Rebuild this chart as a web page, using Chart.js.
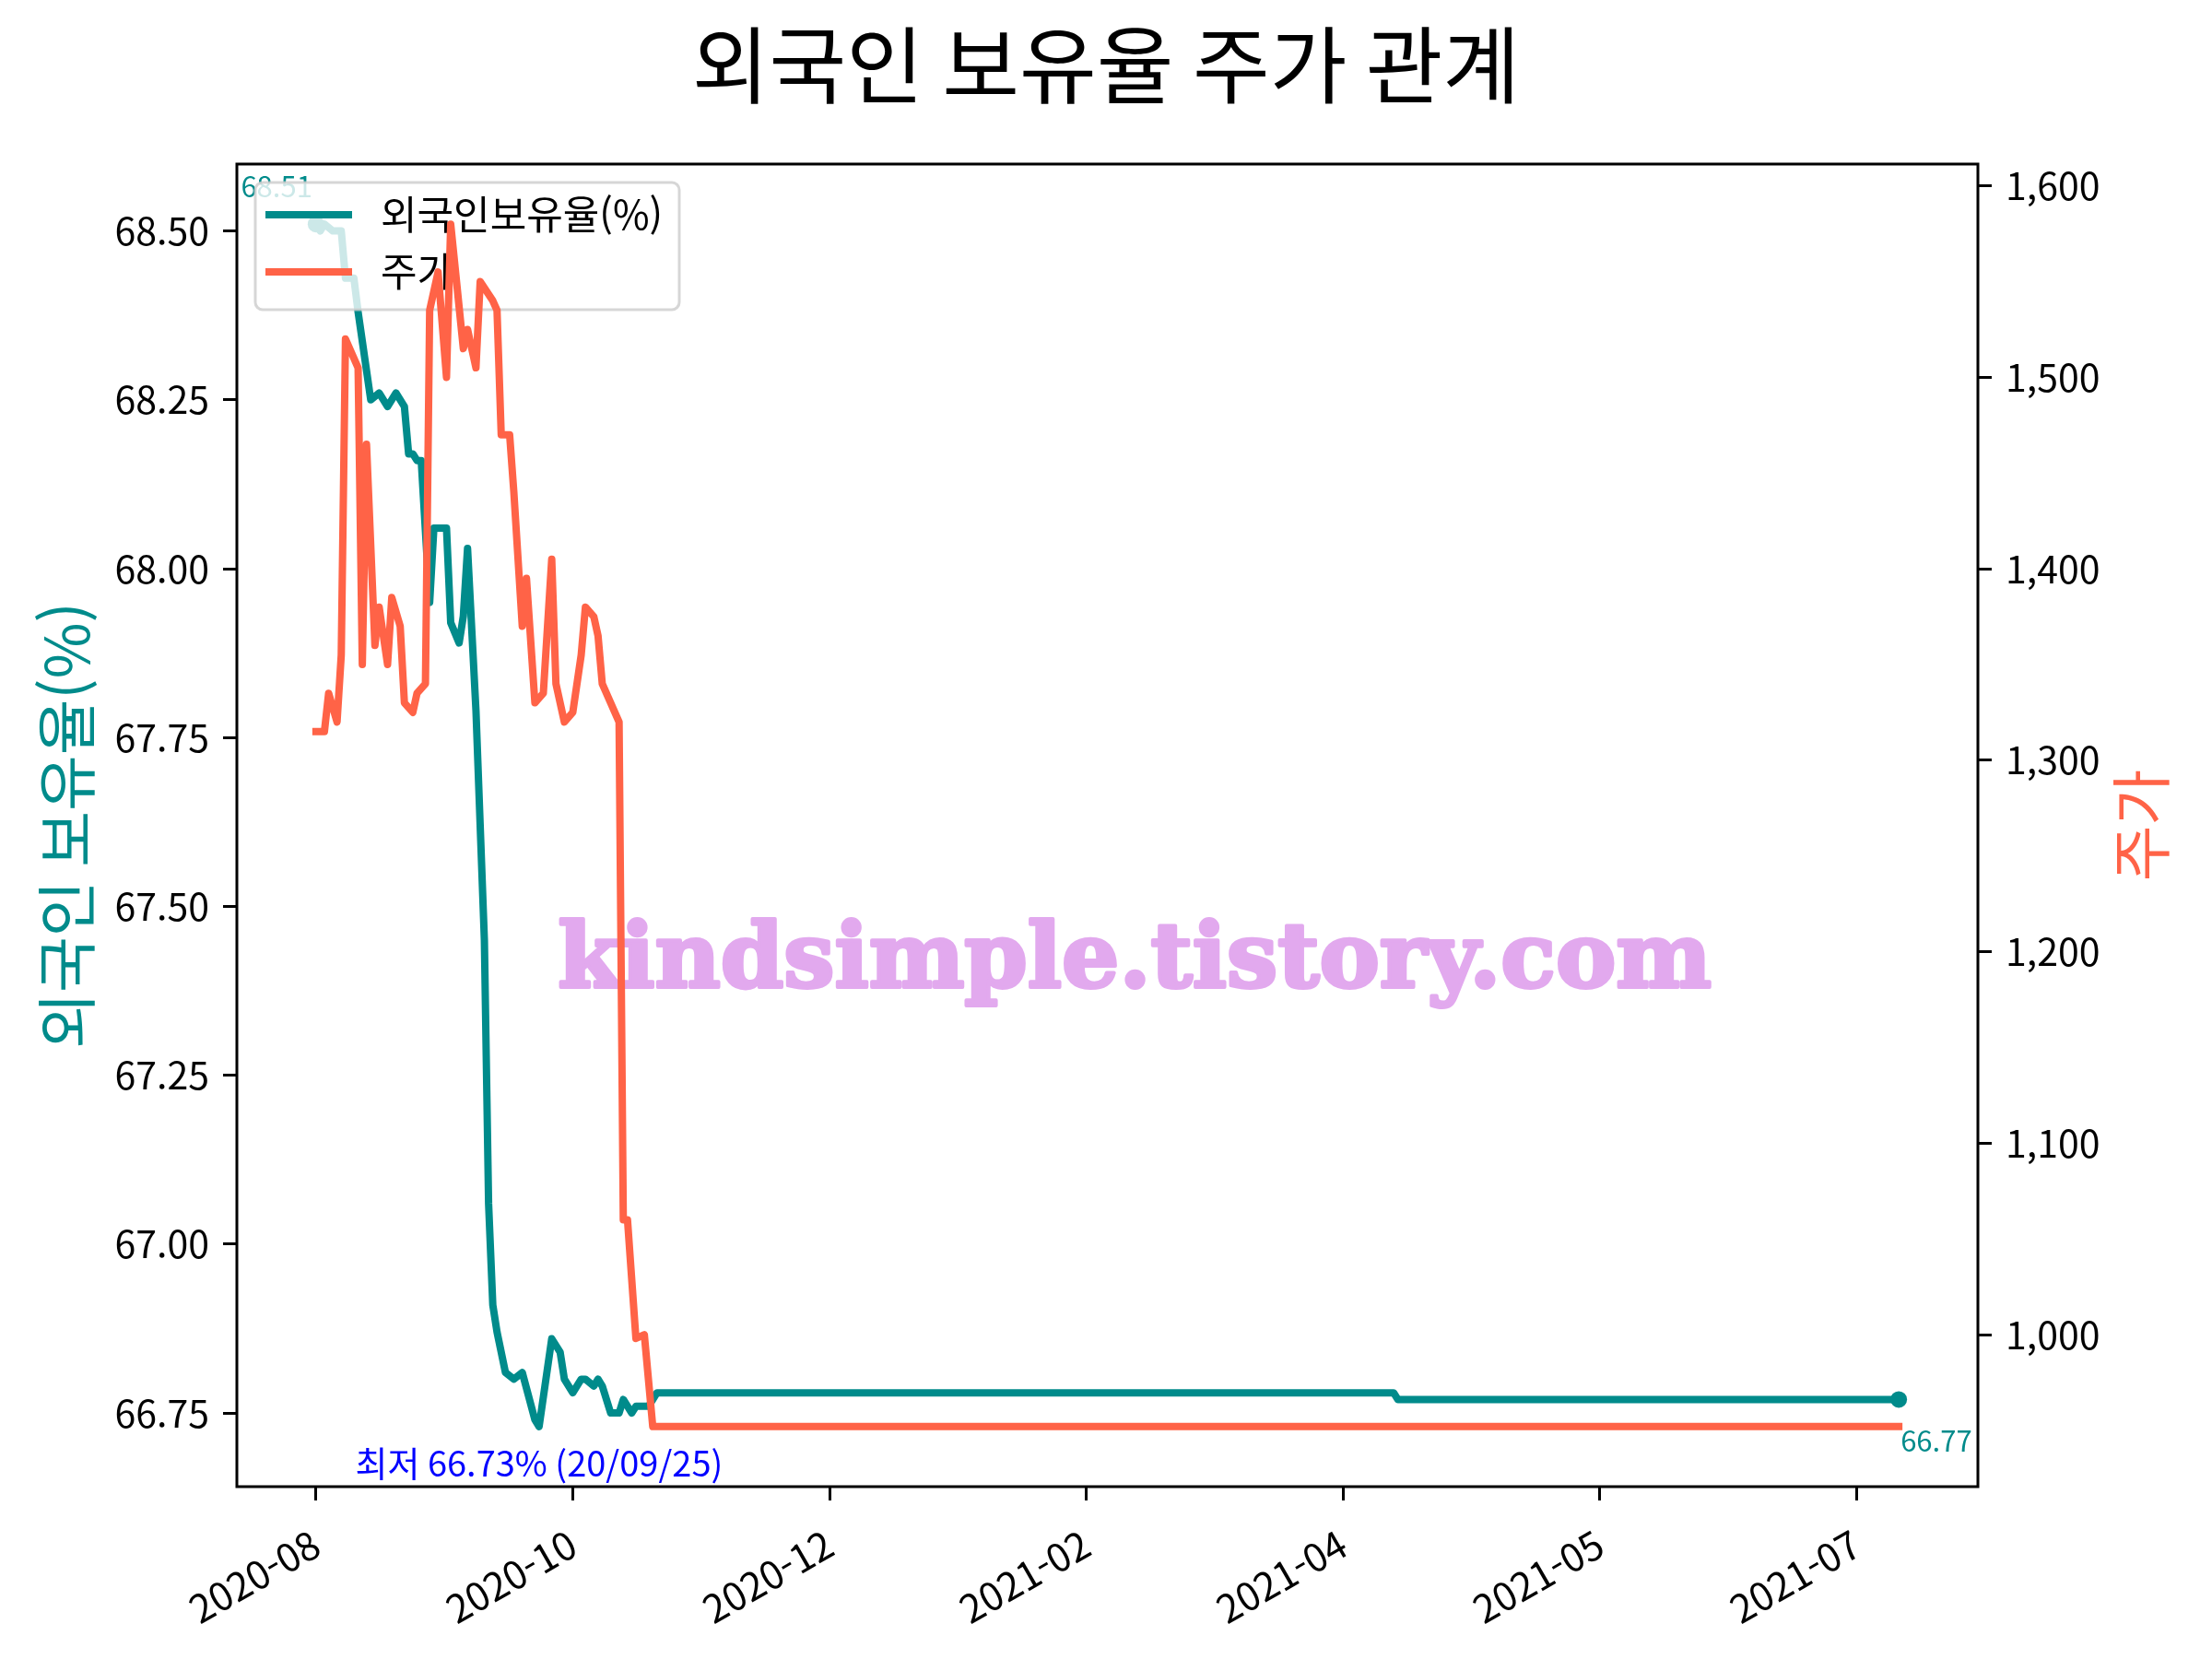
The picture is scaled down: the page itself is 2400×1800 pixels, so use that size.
<!DOCTYPE html>
<html lang="ko">
<head>
<meta charset="UTF-8">
<title>외국인 보유율 주가 관계</title>
<script src="https://cdn.jsdelivr.net/npm/chart.js@4.4.3/dist/chart.umd.min.js"></script>
<style>
  html, body { margin: 0; padding: 0; background: #fff; }
  .wrap { width: 2400px; height: 1800px; position: relative; }
</style>
</head>
<body>
<div class="wrap"><canvas id="chart"></canvas></div>
<script>
// x values are day offsets from the first trading day (2020-08-03)
const holdDays = [0, 1, 2, 4, 6, 7, 9, 10, 13, 15, 17, 19, 21, 22, 23, 24, 25, 27, 28, 31,
  32, 34, 35, 36, 38, 39, 40, 41, 42, 43, 45, 47, 49, 52, 53, 56, 58, 59, 61, 63,
  64, 66, 67, 68, 70, 72, 73, 75, 76, 79, 81, 256, 257, 376];
const holdVals = [68.51, 68.50, 68.51, 68.50, 68.50, 68.43, 68.43, 68.38, 68.25, 68.26,
  68.24, 68.26, 68.24, 68.17, 68.17, 68.16, 68.16, 67.95, 68.06, 68.06,
  67.92, 67.89, 67.93, 68.03, 67.79, 67.62, 67.45, 67.06, 66.91, 66.87,
  66.81, 66.80, 66.81, 66.74, 66.73, 66.86, 66.84, 66.80, 66.78, 66.80,
  66.80, 66.79, 66.80, 66.79, 66.75, 66.75, 66.77, 66.75, 66.76, 66.76,
  66.78, 66.78, 66.77, 66.77];

const priceDays = [0, 2, 3, 5, 6, 7, 10, 11, 12, 14, 15, 17, 18, 20, 21, 23, 24, 26, 27, 29,
  31, 32, 35, 36, 38, 39, 42, 43, 44, 46, 47, 49, 50, 52, 54, 56, 57, 59, 61, 63,
  64, 66, 67, 68, 72, 73, 74, 76, 78, 80, 376];
const priceVals = [1315, 1315, 1335, 1320, 1355, 1520, 1505, 1350, 1465, 1360,
  1380, 1350, 1385, 1370, 1330, 1325, 1335, 1340, 1535, 1555,
  1500, 1580, 1515, 1525, 1505, 1550, 1540, 1535, 1470, 1470,
  1440, 1370, 1395, 1330, 1335, 1405, 1340, 1320, 1325, 1355,
  1380, 1375, 1365, 1340, 1320, 1060, 1060, 998, 1000, 952, 952];

const xTickDays = [0, 61, 122, 183, 244, 305, 366];
const xTickLabels = ['2020-08', '2020-10', '2020-12', '2021-02', '2021-04', '2021-05', '2021-07'];
const holdTicks = [66.75, 67.00, 67.25, 67.50, 67.75, 68.00, 68.25, 68.50];
const priceTicks = [1000, 1100, 1200, 1300, 1400, 1500, 1600];

const TEAL = '#008b8b';
const TOMATO = '#ff6347';
const FONT = "'Noto Sans CJK KR', 'Noto Sans', sans-serif";
const baseDate = Date.UTC(2020, 7, 3);

function padRange(vals) {
  const lo = Math.min(...vals), hi = Math.max(...vals), m = (hi - lo) * 0.05;
  return { min: lo - m, max: hi + m };
}
function shortDate(day) {
  const d = new Date(baseDate + day * 864e5);
  const p = n => String(n).padStart(2, '0');
  return p(d.getUTCFullYear() % 100) + '/' + p(d.getUTCMonth() + 1) + '/' + p(d.getUTCDate());
}

const xRange = padRange(holdDays.concat(priceDays));
const holdRange = padRange(holdVals);
const priceRange = padRange(priceVals);
const minIdx = holdVals.indexOf(Math.min(...holdVals));
const maxIdx = holdVals.indexOf(Math.max(...holdVals));
const lastIdx = holdVals.length - 1;

const decor = {
  id: 'decor',
  beforeDraw(chart) {
    const c = chart.ctx;
    c.save();
    c.fillStyle = '#fff';
    c.fillRect(0, 0, chart.width, chart.height);
    c.restore();
  },
  // teal series is drawn first; its texts and the legend sit between it and the price line
  afterDatasetDraw(chart, args) {
    if (args.index !== 0) return;
    const c = chart.ctx, a = chart.chartArea;
    const sx = chart.scales.x, sy = chart.scales.y;
    c.save();

    c.font = "bold 98px 'DejaVu Serif'";
    c.fillStyle = '#e2a9ee';
    c.strokeStyle = '#e2a9ee';
    c.lineWidth = 4;
    c.lineJoin = 'round';
    c.textAlign = 'center';
    c.textBaseline = 'alphabetic';
    c.fillText('kindsimple.tistory.com', chart.width * 0.513, chart.height * 0.595);
    c.strokeText('kindsimple.tistory.com', chart.width * 0.513, chart.height * 0.595);

    const mx = sx.getPixelForValue(holdDays[maxIdx]), my = sy.getPixelForValue(holdVals[maxIdx]);
    c.font = '31px ' + FONT;
    c.fillStyle = TEAL;
    c.textAlign = 'right';
    c.fillText(holdVals[maxIdx].toFixed(2), mx - 4, my - 29);

    const ex = sx.getPixelForValue(holdDays[lastIdx]), ey = sy.getPixelForValue(holdVals[lastIdx]);
    c.textAlign = 'left';
    c.fillText(holdVals[lastIdx].toFixed(2), ex + 2, ey + 57);

    const nx = sx.getPixelForValue(holdDays[minIdx]), ny = sy.getPixelForValue(holdVals[minIdx]);
    c.font = '38px ' + FONT;
    c.fillStyle = '#0000ff';
    c.textAlign = 'center';
    c.fillText('최저 ' + holdVals[minIdx].toFixed(2) + '% (' + shortDate(holdDays[minIdx]) + ')', nx, ny + 54);

    // legend box
    const lx = a.left + 20, ly = a.top + 20, lw = 460, lh = 138;
    c.beginPath();
    c.roundRect(lx, ly, lw, lh, 8);
    c.fillStyle = 'rgba(255,255,255,0.8)';
    c.fill();
    c.lineWidth = 3;
    c.strokeStyle = 'rgba(204,204,204,0.8)';
    c.stroke();
    const items = [[TEAL, '외국인보유율(%)'], [TOMATO, '주가']];
    c.font = '43px ' + FONT;
    c.textAlign = 'left';
    c.textBaseline = 'middle';
    items.forEach(([col, txt], i) => {
      const yy = ly + 35 + i * 62;
      c.beginPath();
      c.moveTo(lx + 11, yy);
      c.lineTo(lx + 105, yy);
      c.strokeStyle = col;
      c.lineWidth = 8;
      c.stroke();
      c.fillStyle = '#000';
      c.fillText(txt, lx + 136, yy);
    });
    c.restore();
  },
  afterDraw(chart) {
    const c = chart.ctx, a = chart.chartArea;
    c.save();
    c.strokeStyle = '#000';
    c.lineWidth = 3;
    c.strokeRect(a.left, a.top, a.right - a.left, a.bottom - a.top);

    c.fillStyle = '#000';
    c.font = '91px ' + FONT;
    c.textAlign = 'center';
    c.textBaseline = 'middle';
    c.fillText('외국인 보유율 주가 관계', chart.width / 2, 70);

    const cy = (a.top + a.bottom) / 2;
    c.font = '66px ' + FONT;
    c.save();
    c.translate(72, cy);
    c.rotate(-Math.PI / 2);
    c.fillStyle = TEAL;
    c.fillText('외국인 보유율(%)', 0, 0);
    c.restore();
    c.save();
    c.translate(2323, cy);
    c.rotate(-Math.PI / 2);
    c.fillStyle = TOMATO;
    c.fillText('주가', 0, 0);
    c.restore();
    c.restore();
  }
};

Chart.defaults.font.family = FONT;
Chart.defaults.color = '#000';

const tickGrid = { drawOnChartArea: false, drawTicks: true, tickLength: 15, tickWidth: 3, tickColor: '#000' };

new Chart(document.getElementById('chart'), {
  type: 'line',
  data: {
    datasets: [
      {
        label: '외국인보유율(%)',
        data: holdDays.map((d, i) => ({ x: d, y: holdVals[i] })),
        yAxisID: 'y',
        borderColor: TEAL,
        backgroundColor: TEAL,
        borderWidth: 8,
        borderJoinStyle: 'round',
        borderCapStyle: 'square',
        pointRadius: ctx => (ctx.dataIndex === maxIdx || ctx.dataIndex === lastIdx) ? 9 : 0,
        pointBorderWidth: 0,
        tension: 0,
        order: 2
      },
      {
        label: '주가',
        data: priceDays.map((d, i) => ({ x: d, y: priceVals[i] })),
        yAxisID: 'y2',
        borderColor: TOMATO,
        backgroundColor: TOMATO,
        borderWidth: 8,
        borderJoinStyle: 'round',
        borderCapStyle: 'square',
        pointRadius: 0,
        tension: 0,
        order: 1
      }
    ]
  },
  options: {
    responsive: true,
    maintainAspectRatio: false,
    animation: false,
    events: [],
    layout: { padding: { top: 178, left: 0, right: 0, bottom: 0 } },
    plugins: { legend: { display: false }, tooltip: { enabled: false } },
    scales: {
      x: {
        type: 'linear',
        min: xRange.min,
        max: xRange.max,
        afterBuildTicks: ax => { ax.ticks = xTickDays.map(v => ({ value: v })); },
        afterFit: s => { s.height = 187; },
        ticks: {
          autoSkip: false, minRotation: 30, maxRotation: 30, padding: 22,
          font: { size: 42 },
          callback: v => xTickLabels[xTickDays.indexOf(v)]
        },
        grid: tickGrid,
        border: { display: false }
      },
      y: {
        position: 'left',
        min: holdRange.min,
        max: holdRange.max,
        afterBuildTicks: ax => { ax.ticks = holdTicks.map(v => ({ value: v })); },
        afterFit: s => { s.width = 257; },
        ticks: { padding: 15, font: { size: 41 }, callback: v => v.toFixed(2) },
        grid: tickGrid,
        border: { display: false }
      },
      y2: {
        position: 'right',
        min: priceRange.min,
        max: priceRange.max,
        afterBuildTicks: ax => { ax.ticks = priceTicks.map(v => ({ value: v })); },
        afterFit: s => { s.width = 254; },
        ticks: { padding: 15, font: { size: 41 }, callback: v => v.toLocaleString('en-US') },
        grid: tickGrid,
        border: { display: false }
      }
    }
  },
  plugins: [decor]
});
</script>
</body>
</html>
